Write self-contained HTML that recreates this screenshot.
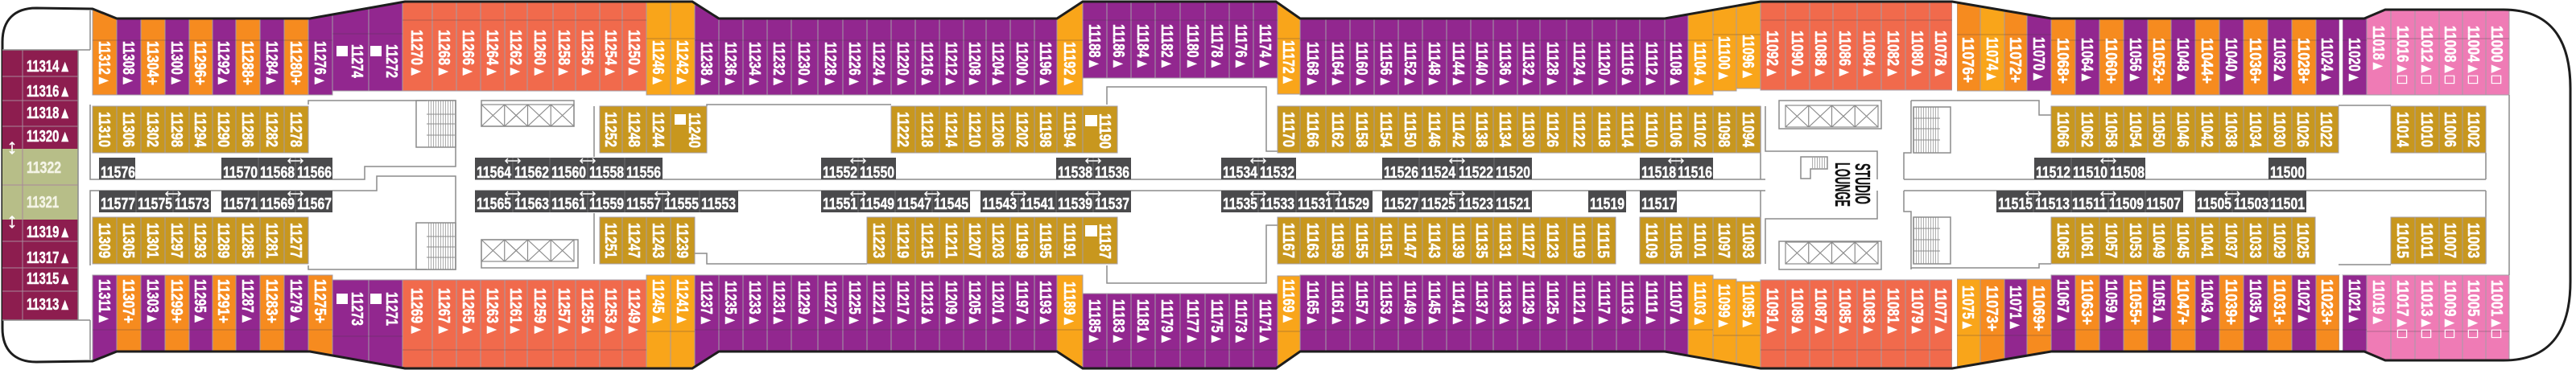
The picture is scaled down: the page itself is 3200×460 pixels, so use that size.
<!DOCTYPE html>
<html><head><meta charset="utf-8"><style>
html,body{margin:0;padding:0;background:#fff;width:3200px;height:460px;overflow:hidden}
svg{display:block}
.t{font-family:"Liberation Sans","DejaVu Sans",sans-serif;font-weight:700;font-size:20px;fill:#fff;stroke:#fff;stroke-width:0.5}
.O{fill:#F68B1F}.P{fill:#92278F}.C{fill:#F16A4C}.G{fill:#F9A51A}.M{fill:#C8971E}.K{fill:#4A4A4C}.PK{fill:#EF7BB5}.MR{fill:#8D1D4F}.GR{fill:#B7BE88}.W{fill:#fff}
.cb rect{stroke:#a39ca6;stroke-width:1}
.ln{fill:none;stroke:#8c8c8c;stroke-width:1.5}
</style></head><body>
<svg width="3200" height="460" viewBox="0 0 3200 460" xmlns="http://www.w3.org/2000/svg">
<defs>
<clipPath id="hull"><path d="M45 10 L115 11 L145 23 L385 23 L503 2 L860 2 L893 23 L1313 23 L1345 2 L1585 2 L1615 23 L2068 23 L2187 2 L2425 2 L2548 23 L2937 23 L2963 12 L3110 12 C3165 12 3193 45 3193 110 L3193 350 C3193 415 3165 448 3110 448 L2963 448 L2937 437 L2548 437 L2425 458 L2187 458 L2068 437 L1615 437 L1585 458 L1345 458 L1313 437 L893 437 L860 458 L503 458 L385 437 L145 437 L115 449 L45 450 C18 450 3 435 3 408 L3 52 C3 25 18 10 45 10 Z"/></clipPath>
<pattern id="st" width="3" height="4" patternUnits="userSpaceOnUse"><rect width="3" height="4" fill="#fff"/><line x1="1.5" y1="0" x2="1.5" y2="4" stroke="#9a9a9a" stroke-width="0.8"/></pattern>
<g id="el" fill="none" stroke="#8a8a8a" stroke-width="1.2"><rect width="115" height="27"/><path d="M28.75 0V27M57.5 0V27M86.25 0V27M0 0L28.75 27M28.75 0L0 27M28.75 0L57.5 27M57.5 0L28.75 27M57.5 0L86.25 27M86.25 0L57.5 27M86.25 0L115 27M115 0L86.25 27"/></g>
<g id="ar" fill="none" stroke="#fff" stroke-width="1.5"><path d="M-9 0H9M-6 -3L-9 0L-6 3M6 -3L9 0L6 3"/></g>
</defs>

<g clip-path="url(#hull)" class="cb">
<rect class="O" x="115" y="0" width="30" height="118"/><rect class="P" x="145" y="0" width="30" height="118"/><rect class="O" x="175" y="0" width="30" height="118"/><rect class="P" x="205" y="0" width="30" height="118"/><rect class="O" x="235" y="0" width="29" height="118"/><rect class="P" x="264" y="0" width="29" height="118"/><rect class="O" x="293" y="0" width="30" height="118"/><rect class="P" x="323" y="0" width="30" height="118"/><rect class="O" x="353" y="0" width="30" height="118"/><rect class="P" x="383" y="0" width="30" height="118"/>
<rect class="P" x="413" y="0" width="45" height="113"/><rect class="P" x="458" y="0" width="42" height="113"/>
<rect class="C" x="500" y="0" width="37" height="113"/><rect class="C" x="537" y="0" width="30" height="113"/><rect class="C" x="567" y="0" width="30" height="113"/><rect class="C" x="597" y="0" width="30" height="113"/><rect class="C" x="627" y="0" width="28" height="113"/><rect class="C" x="655" y="0" width="32" height="113"/><rect class="C" x="687" y="0" width="28" height="113"/><rect class="C" x="715" y="0" width="30" height="113"/><rect class="C" x="745" y="0" width="28" height="113"/><rect class="C" x="773" y="0" width="30" height="113"/>
<rect class="G" x="803" y="0" width="30" height="118"/><rect class="G" x="833" y="0" width="30" height="118"/>
<rect class="P" x="863" y="0" width="30" height="118"/><rect class="P" x="893" y="0" width="30" height="118"/><rect class="P" x="923" y="0" width="30" height="118"/><rect class="P" x="953" y="0" width="30" height="118"/><rect class="P" x="983" y="0" width="33" height="118"/><rect class="P" x="1016" y="0" width="31" height="118"/><rect class="P" x="1047" y="0" width="30" height="118"/><rect class="P" x="1077" y="0" width="30" height="118"/><rect class="P" x="1107" y="0" width="30" height="118"/><rect class="P" x="1137" y="0" width="30" height="118"/><rect class="P" x="1167" y="0" width="30" height="118"/><rect class="P" x="1197" y="0" width="28" height="118"/><rect class="P" x="1225" y="0" width="30" height="118"/><rect class="P" x="1255" y="0" width="30" height="118"/><rect class="P" x="1285" y="0" width="28" height="118"/>
<rect class="G" x="1313" y="0" width="32" height="118"/>
<rect class="P" x="1345" y="0" width="30" height="97"/><rect class="P" x="1375" y="0" width="30" height="97"/><rect class="P" x="1405" y="0" width="30" height="97"/><rect class="P" x="1435" y="0" width="31" height="97"/><rect class="P" x="1466" y="0" width="31" height="97"/><rect class="P" x="1497" y="0" width="30" height="97"/><rect class="P" x="1527" y="0" width="30" height="97"/><rect class="P" x="1557" y="0" width="30" height="97"/>
<rect class="G" x="1587" y="0" width="28" height="117"/>
<rect class="P" x="1615" y="0" width="32" height="118"/><rect class="P" x="1647" y="0" width="30" height="118"/><rect class="P" x="1677" y="0" width="30" height="118"/><rect class="P" x="1707" y="0" width="30" height="118"/><rect class="P" x="1737" y="0" width="30" height="118"/><rect class="P" x="1767" y="0" width="30" height="118"/><rect class="P" x="1797" y="0" width="30" height="118"/><rect class="P" x="1827" y="0" width="28" height="118"/><rect class="P" x="1855" y="0" width="30" height="118"/><rect class="P" x="1885" y="0" width="28" height="118"/><rect class="P" x="1913" y="0" width="33" height="118"/><rect class="P" x="1946" y="0" width="32" height="118"/><rect class="P" x="1978" y="0" width="30" height="118"/><rect class="P" x="2008" y="0" width="29" height="118"/><rect class="P" x="2037" y="0" width="31" height="118"/><rect class="P" x="2068" y="0" width="29" height="118"/>
<rect class="G" x="2097" y="0" width="31" height="118"/><rect class="G" x="2128" y="0" width="29" height="113"/><rect class="G" x="2157" y="0" width="30" height="110"/>
<rect class="C" x="2187" y="0" width="31" height="112"/><rect class="C" x="2218" y="0" width="30" height="112"/><rect class="C" x="2248" y="0" width="29" height="112"/><rect class="C" x="2277" y="0" width="30" height="112"/><rect class="C" x="2307" y="0" width="30" height="112"/><rect class="C" x="2337" y="0" width="30" height="112"/><rect class="C" x="2367" y="0" width="30" height="112"/><rect class="C" x="2397" y="0" width="28" height="112"/>
<rect class="O" x="2431" y="0" width="29" height="113"/><rect class="G" x="2460" y="0" width="30" height="113"/><rect class="O" x="2490" y="0" width="28" height="113"/><rect class="P" x="2518" y="0" width="30" height="113"/>
<rect class="O" x="2548" y="0" width="30" height="118"/><rect class="P" x="2578" y="0" width="30" height="118"/><rect class="O" x="2608" y="0" width="30" height="118"/><rect class="P" x="2638" y="0" width="30" height="118"/><rect class="O" x="2668" y="0" width="29" height="118"/><rect class="P" x="2697" y="0" width="30" height="118"/><rect class="O" x="2727" y="0" width="30" height="118"/><rect class="P" x="2757" y="0" width="30" height="118"/><rect class="O" x="2787" y="0" width="30" height="118"/><rect class="P" x="2817" y="0" width="30" height="118"/><rect class="O" x="2847" y="0" width="30" height="118"/><rect class="P" x="2877" y="0" width="29" height="118"/><rect class="P" x="2910" y="0" width="30" height="118"/>
<rect class="PK" x="2940" y="0" width="30" height="118"/><rect class="PK" x="2970" y="0" width="30" height="118"/><rect class="PK" x="3000" y="0" width="30" height="118"/><rect class="PK" x="3030" y="0" width="29" height="118"/><rect class="PK" x="3059" y="0" width="29" height="118"/><rect class="PK" x="3088" y="0" width="29" height="118"/>
<rect class="P" x="115" y="342" width="30" height="118"/><rect class="O" x="145" y="342" width="30" height="118"/><rect class="P" x="175" y="342" width="30" height="118"/><rect class="O" x="205" y="342" width="30" height="118"/><rect class="P" x="235" y="342" width="29" height="118"/><rect class="O" x="264" y="342" width="29" height="118"/><rect class="P" x="293" y="342" width="30" height="118"/><rect class="O" x="323" y="342" width="30" height="118"/><rect class="P" x="353" y="342" width="30" height="118"/><rect class="O" x="383" y="342" width="30" height="118"/>
<rect class="P" x="413" y="348" width="45" height="112"/><rect class="P" x="458" y="348" width="42" height="112"/>
<rect class="C" x="500" y="348" width="37" height="112"/><rect class="C" x="537" y="348" width="30" height="112"/><rect class="C" x="567" y="348" width="30" height="112"/><rect class="C" x="597" y="348" width="30" height="112"/><rect class="C" x="627" y="348" width="28" height="112"/><rect class="C" x="655" y="348" width="32" height="112"/><rect class="C" x="687" y="348" width="28" height="112"/><rect class="C" x="715" y="348" width="30" height="112"/><rect class="C" x="745" y="348" width="28" height="112"/><rect class="C" x="773" y="348" width="30" height="112"/>
<rect class="G" x="803" y="342" width="30" height="118"/><rect class="G" x="833" y="342" width="30" height="118"/>
<rect class="P" x="863" y="342" width="30" height="118"/><rect class="P" x="893" y="342" width="30" height="118"/><rect class="P" x="923" y="342" width="30" height="118"/><rect class="P" x="953" y="342" width="30" height="118"/><rect class="P" x="983" y="342" width="33" height="118"/><rect class="P" x="1016" y="342" width="31" height="118"/><rect class="P" x="1047" y="342" width="30" height="118"/><rect class="P" x="1077" y="342" width="30" height="118"/><rect class="P" x="1107" y="342" width="30" height="118"/><rect class="P" x="1137" y="342" width="30" height="118"/><rect class="P" x="1167" y="342" width="30" height="118"/><rect class="P" x="1197" y="342" width="28" height="118"/><rect class="P" x="1225" y="342" width="30" height="118"/><rect class="P" x="1255" y="342" width="30" height="118"/><rect class="P" x="1285" y="342" width="28" height="118"/>
<rect class="G" x="1313" y="342" width="32" height="118"/>
<rect class="P" x="1345" y="365" width="30" height="95"/><rect class="P" x="1375" y="365" width="30" height="95"/><rect class="P" x="1405" y="365" width="30" height="95"/><rect class="P" x="1435" y="365" width="31" height="95"/><rect class="P" x="1466" y="365" width="31" height="95"/><rect class="P" x="1497" y="365" width="30" height="95"/><rect class="P" x="1527" y="365" width="30" height="95"/><rect class="P" x="1557" y="365" width="30" height="95"/>
<rect class="G" x="1587" y="343" width="28" height="117"/>
<rect class="P" x="1615" y="342" width="32" height="118"/><rect class="P" x="1647" y="342" width="30" height="118"/><rect class="P" x="1677" y="342" width="30" height="118"/><rect class="P" x="1707" y="342" width="30" height="118"/><rect class="P" x="1737" y="342" width="30" height="118"/><rect class="P" x="1767" y="342" width="30" height="118"/><rect class="P" x="1797" y="342" width="30" height="118"/><rect class="P" x="1827" y="342" width="28" height="118"/><rect class="P" x="1855" y="342" width="30" height="118"/><rect class="P" x="1885" y="342" width="28" height="118"/><rect class="P" x="1913" y="342" width="33" height="118"/><rect class="P" x="1946" y="342" width="32" height="118"/><rect class="P" x="1978" y="342" width="30" height="118"/><rect class="P" x="2008" y="342" width="29" height="118"/><rect class="P" x="2037" y="342" width="31" height="118"/><rect class="P" x="2068" y="342" width="29" height="118"/>
<rect class="G" x="2097" y="342" width="31" height="118"/><rect class="G" x="2128" y="347" width="29" height="113"/><rect class="G" x="2157" y="350" width="30" height="110"/>
<rect class="C" x="2187" y="348" width="31" height="112"/><rect class="C" x="2218" y="348" width="30" height="112"/><rect class="C" x="2248" y="348" width="29" height="112"/><rect class="C" x="2277" y="348" width="30" height="112"/><rect class="C" x="2307" y="348" width="30" height="112"/><rect class="C" x="2337" y="348" width="30" height="112"/><rect class="C" x="2367" y="348" width="30" height="112"/><rect class="C" x="2397" y="348" width="28" height="112"/>
<rect class="G" x="2431" y="347" width="29" height="113"/><rect class="O" x="2460" y="347" width="30" height="113"/><rect class="P" x="2490" y="347" width="28" height="113"/><rect class="O" x="2518" y="347" width="30" height="113"/>
<rect class="P" x="2548" y="342" width="30" height="118"/><rect class="O" x="2578" y="342" width="30" height="118"/><rect class="P" x="2608" y="342" width="30" height="118"/><rect class="O" x="2638" y="342" width="30" height="118"/><rect class="P" x="2668" y="342" width="29" height="118"/><rect class="O" x="2697" y="342" width="30" height="118"/><rect class="P" x="2727" y="342" width="30" height="118"/><rect class="O" x="2757" y="342" width="30" height="118"/><rect class="P" x="2787" y="342" width="30" height="118"/><rect class="O" x="2817" y="342" width="30" height="118"/><rect class="P" x="2847" y="342" width="30" height="118"/><rect class="O" x="2877" y="342" width="29" height="118"/><rect class="P" x="2910" y="342" width="30" height="118"/>
<rect class="PK" x="2940" y="342" width="30" height="118"/><rect class="PK" x="2970" y="342" width="30" height="118"/><rect class="PK" x="3000" y="342" width="30" height="118"/><rect class="PK" x="3030" y="342" width="29" height="118"/><rect class="PK" x="3059" y="342" width="29" height="118"/><rect class="PK" x="3088" y="342" width="29" height="118"/>
</g>
<g clip-path="url(#hull)">
<rect class="W" x="2425" y="0" width="6" height="118"/><rect class="W" x="2425" y="342" width="6" height="118"/>
<rect class="W" x="2906" y="0" width="4" height="118"/><rect class="W" x="2906" y="342" width="4" height="118"/>
<path fill="none" stroke="rgba(70,60,70,0.35)" stroke-width="1" d="M115 50H413M413 42H500M500 25H803M803 48H863M863 50H1345M1345 25H1587M1587 48H1615M1615 50H2128M2128 43H2187M2187 25H2425M2431 43H2548M2548 50H2906M2910 50H2940M2940 48H3117M115 410H413M413 418H500M500 435H803M803 412H863M863 410H1345M1345 435H1587M1587 412H1615M1615 410H2128M2128 417H2187M2187 435H2425M2431 417H2548M2548 410H2906M2910 410H2940M2940 412H3117"/>
</g>

<path fill="none" stroke="#1d1d1d" stroke-width="3" d="M45 10 L115 11 L145 23 L385 23 L503 2 L860 2 L893 23 L1313 23 L1345 2 L1585 2 L1615 23 L2068 23 L2187 2 L2425 2 L2548 23 L2937 23 L2963 12 L3110 12 C3165 12 3193 45 3193 110 L3193 350 C3193 415 3165 448 3110 448 L2963 448 L2937 437 L2548 437 L2425 458 L2187 458 L2068 437 L1615 437 L1585 458 L1345 458 L1313 437 L893 437 L860 458 L503 458 L385 437 L145 437 L115 449 L45 450 C18 450 3 435 3 408 L3 52 C3 25 18 10 45 10 Z"/>

<rect class="W" x="418" y="57" width="14" height="13"/><rect class="W" x="460" y="57" width="14" height="13"/>
<rect class="W" x="418" y="365" width="14" height="13"/><rect class="W" x="460" y="365" width="14" height="13"/>

<rect class="MR" x="3" y="62" width="94" height="123"/>
<rect class="GR" x="3" y="185" width="94" height="88"/>
<rect class="MR" x="3" y="273" width="94" height="125"/>
<path fill="none" stroke="#a8889a" stroke-width="1" d="M28 62V398M3 95H97M3 125H97M3 157H97M3 230H97M3 300H97M3 333H97M3 362H97"/>
<path class="ln" d="M3 62H112M3 398H112M112 13V62M112 398V447M97 62V398"/>
<path fill="none" stroke="#fff" stroke-width="1.6" d="M15 177V191M12 180L15 177L18 180M12 188L15 191L18 188M15 269V283M12 272L15 269L18 272M12 280L15 283L18 280"/>
<text class="t" x="33" y="89" textLength="55" lengthAdjust="spacingAndGlyphs">11314▲</text>
<text class="t" x="33" y="120" textLength="55" lengthAdjust="spacingAndGlyphs">11316▲</text>
<text class="t" x="33" y="147" textLength="55" lengthAdjust="spacingAndGlyphs">11318▲</text>
<text class="t" x="33" y="176" textLength="55" lengthAdjust="spacingAndGlyphs">11320▲</text>
<text class="t" x="33" y="215" textLength="43" lengthAdjust="spacingAndGlyphs" style="fill:#f4f4e6;stroke:#f4f4e6">11322</text>
<text class="t" x="33" y="258" textLength="40" lengthAdjust="spacingAndGlyphs" style="fill:#f4f4e6;stroke:#f4f4e6">11321</text>
<text class="t" x="33" y="295" textLength="55" lengthAdjust="spacingAndGlyphs">11319▲</text>
<text class="t" x="33" y="327" textLength="55" lengthAdjust="spacingAndGlyphs">11317▲</text>
<text class="t" x="33" y="353" textLength="55" lengthAdjust="spacingAndGlyphs">11315▲</text>
<text class="t" x="33" y="385" textLength="55" lengthAdjust="spacingAndGlyphs">11313▲</text>

<path class="ln" d="M112 130V223H453V207H566V125H383V130M112 330V237H468V219H566V335H383V330"/>
<path class="ln" d="M590 223H2193M590 237H2193M878 132V130H1107M863 315H878V328H1077M738 132V195M738 265V328M1375 130V108H1573V188H1587M1375 330V352H1573V280H1587"/>
<path class="ln" d="M2187 132V223M2187 237V328M2193 132V188H2332V223M2193 328V272H2332V237"/>
<path class="ln" d="M2365 223H3088M2365 237H3088M2374 125V190H2365V223M2374 335V263H2365V237M2374 125H2533V143H2548M2374 333H2533V328H2548M3088 190V223M3088 237V328M3117 118V342M2905 131H2970M2905 329H2970"/>

<rect x="530" y="125" width="35" height="58" fill="url(#st)"/><rect x="530" y="277" width="35" height="58" fill="url(#st)"/>
<rect x="2377" y="133" width="33" height="57" fill="url(#st)"/><rect x="2377" y="270" width="33" height="58" fill="url(#st)"/>
<path class="ln" d="M517 125H566V183H517ZM517 277H566V335H517ZM2377 133H2423V190H2377ZM2377 270H2423V328H2377Z"/>
<path fill="none" stroke="#8c8c8c" stroke-width="1" d="M530 142H565M530 154H565M530 168H565M530 294H565M530 307H565M530 320H565M2377 147H2410M2377 160H2410M2377 174H2410M2377 284H2410M2377 298H2410M2377 312H2410"/>

<rect class="ln" x="598" y="125" width="115" height="32"/><use href="#el" x="598" y="130"/>
<rect class="ln" x="598" y="298" width="120" height="35"/><use href="#el" x="598" y="298"/>
<rect class="ln" x="2210" y="125" width="127" height="35"/><use href="#el" x="2218" y="131"/>
<rect class="ln" x="2210" y="300" width="127" height="35"/><use href="#el" x="2218" y="301"/>

<path class="ln" d="M2237 195H2270V210H2249V222H2237Z"/>
<rect x="2250" y="196" width="19" height="13" fill="url(#st)"/>
<text class="t" style="fill:#111;stroke:#111;stroke-width:0.3;font-size:26px" transform="translate(2305 203)rotate(90)" textLength="51" lengthAdjust="spacingAndGlyphs">STUDIO</text>
<text class="t" style="fill:#111;stroke:#111;stroke-width:0.3;font-size:26px" transform="translate(2280 202)rotate(90)" textLength="55" lengthAdjust="spacingAndGlyphs">LOUNGE</text>

<g class="cb">
<rect class="M" x="115" y="132" width="30" height="58"/><rect class="M" x="145" y="132" width="30" height="58"/><rect class="M" x="175" y="132" width="30" height="58"/><rect class="M" x="205" y="132" width="30" height="58"/><rect class="M" x="235" y="132" width="29" height="58"/><rect class="M" x="264" y="132" width="29" height="58"/><rect class="M" x="293" y="132" width="30" height="58"/><rect class="M" x="323" y="132" width="30" height="58"/><rect class="M" x="353" y="132" width="30" height="58"/>
<rect class="M" x="745" y="132" width="28" height="58"/><rect class="M" x="773" y="132" width="30" height="58"/><rect class="M" x="803" y="132" width="30" height="58"/><rect class="M" x="833" y="132" width="45" height="58"/>
<rect class="M" x="1107" y="132" width="30" height="58"/><rect class="M" x="1137" y="132" width="30" height="58"/><rect class="M" x="1167" y="132" width="30" height="58"/><rect class="M" x="1197" y="132" width="28" height="58"/><rect class="M" x="1225" y="132" width="30" height="58"/><rect class="M" x="1255" y="132" width="30" height="58"/><rect class="M" x="1285" y="132" width="28" height="58"/><rect class="M" x="1313" y="132" width="32" height="58"/><rect class="M" x="1345" y="132" width="43" height="58"/>
<rect class="M" x="1587" y="132" width="28" height="58"/><rect class="M" x="1615" y="132" width="32" height="58"/><rect class="M" x="1647" y="132" width="30" height="58"/><rect class="M" x="1677" y="132" width="30" height="58"/><rect class="M" x="1707" y="132" width="30" height="58"/><rect class="M" x="1737" y="132" width="30" height="58"/><rect class="M" x="1767" y="132" width="30" height="58"/><rect class="M" x="1797" y="132" width="30" height="58"/><rect class="M" x="1827" y="132" width="28" height="58"/><rect class="M" x="1855" y="132" width="30" height="58"/><rect class="M" x="1885" y="132" width="28" height="58"/><rect class="M" x="1913" y="132" width="33" height="58"/><rect class="M" x="1946" y="132" width="32" height="58"/><rect class="M" x="1978" y="132" width="30" height="58"/><rect class="M" x="2008" y="132" width="29" height="58"/><rect class="M" x="2037" y="132" width="31" height="58"/><rect class="M" x="2068" y="132" width="29" height="58"/><rect class="M" x="2097" y="132" width="31" height="58"/><rect class="M" x="2128" y="132" width="29" height="58"/><rect class="M" x="2157" y="132" width="30" height="58"/>
<rect class="M" x="2548" y="132" width="30" height="58"/><rect class="M" x="2578" y="132" width="30" height="58"/><rect class="M" x="2608" y="132" width="30" height="58"/><rect class="M" x="2638" y="132" width="30" height="58"/><rect class="M" x="2668" y="132" width="29" height="58"/><rect class="M" x="2697" y="132" width="30" height="58"/><rect class="M" x="2727" y="132" width="30" height="58"/><rect class="M" x="2757" y="132" width="30" height="58"/><rect class="M" x="2787" y="132" width="30" height="58"/><rect class="M" x="2817" y="132" width="30" height="58"/><rect class="M" x="2847" y="132" width="29" height="58"/><rect class="M" x="2876" y="132" width="29" height="58"/>
<rect class="M" x="2970" y="132" width="30" height="58"/><rect class="M" x="3000" y="132" width="30" height="58"/><rect class="M" x="3030" y="132" width="29" height="58"/><rect class="M" x="3059" y="132" width="29" height="58"/>

<rect class="M" x="115" y="270" width="30" height="58"/><rect class="M" x="145" y="270" width="30" height="58"/><rect class="M" x="175" y="270" width="30" height="58"/><rect class="M" x="205" y="270" width="30" height="58"/><rect class="M" x="235" y="270" width="29" height="58"/><rect class="M" x="264" y="270" width="29" height="58"/><rect class="M" x="293" y="270" width="30" height="58"/><rect class="M" x="323" y="270" width="30" height="58"/><rect class="M" x="353" y="270" width="30" height="58"/>
<rect class="M" x="745" y="270" width="28" height="58"/><rect class="M" x="773" y="270" width="30" height="58"/><rect class="M" x="803" y="270" width="30" height="58"/><rect class="M" x="833" y="270" width="30" height="58"/>
<rect class="M" x="1077" y="270" width="30" height="58"/><rect class="M" x="1107" y="270" width="30" height="58"/><rect class="M" x="1137" y="270" width="30" height="58"/><rect class="M" x="1167" y="270" width="30" height="58"/><rect class="M" x="1197" y="270" width="28" height="58"/><rect class="M" x="1225" y="270" width="30" height="58"/><rect class="M" x="1255" y="270" width="30" height="58"/><rect class="M" x="1285" y="270" width="28" height="58"/><rect class="M" x="1313" y="270" width="32" height="58"/><rect class="M" x="1345" y="270" width="43" height="58"/>
<rect class="M" x="1587" y="270" width="28" height="58"/><rect class="M" x="1615" y="270" width="32" height="58"/><rect class="M" x="1647" y="270" width="30" height="58"/><rect class="M" x="1677" y="270" width="30" height="58"/><rect class="M" x="1707" y="270" width="30" height="58"/><rect class="M" x="1737" y="270" width="30" height="58"/><rect class="M" x="1767" y="270" width="30" height="58"/><rect class="M" x="1797" y="270" width="30" height="58"/><rect class="M" x="1827" y="270" width="28" height="58"/><rect class="M" x="1855" y="270" width="30" height="58"/><rect class="M" x="1885" y="270" width="28" height="58"/><rect class="M" x="1913" y="270" width="33" height="58"/><rect class="M" x="1946" y="270" width="32" height="58"/><rect class="M" x="1978" y="270" width="29" height="58"/>
<rect class="M" x="2037" y="270" width="31" height="58"/><rect class="M" x="2068" y="270" width="29" height="58"/><rect class="M" x="2097" y="270" width="31" height="58"/><rect class="M" x="2128" y="270" width="29" height="58"/><rect class="M" x="2157" y="270" width="30" height="58"/>
<rect class="M" x="2548" y="270" width="30" height="58"/><rect class="M" x="2578" y="270" width="30" height="58"/><rect class="M" x="2608" y="270" width="30" height="58"/><rect class="M" x="2638" y="270" width="30" height="58"/><rect class="M" x="2668" y="270" width="29" height="58"/><rect class="M" x="2697" y="270" width="30" height="58"/><rect class="M" x="2727" y="270" width="30" height="58"/><rect class="M" x="2757" y="270" width="30" height="58"/><rect class="M" x="2787" y="270" width="30" height="58"/><rect class="M" x="2817" y="270" width="30" height="58"/><rect class="M" x="2847" y="270" width="29" height="58"/>
<rect class="M" x="2970" y="270" width="30" height="58"/><rect class="M" x="3000" y="270" width="30" height="58"/><rect class="M" x="3030" y="270" width="29" height="58"/><rect class="M" x="3059" y="270" width="29" height="58"/>
</g>
<rect class="W" x="838" y="142" width="14" height="13"/><rect class="W" x="1348" y="143" width="15" height="14"/><rect class="W" x="1348" y="280" width="15" height="14"/>

<g class="K">
<rect x="123" y="196" width="45" height="27"/><rect x="275" y="196" width="138" height="27"/><rect x="590" y="196" width="233" height="27"/><rect x="1020" y="196" width="93" height="27"/><rect x="1312" y="196" width="93" height="27"/><rect x="1517" y="196" width="93" height="27"/><rect x="1717" y="196" width="186" height="27"/><rect x="2037" y="196" width="91" height="27"/><rect x="2527" y="196" width="138" height="27"/><rect x="2818" y="196" width="47" height="27"/>
<rect x="123" y="237" width="139" height="27"/><rect x="275" y="237" width="138" height="27"/><rect x="590" y="237" width="327" height="27"/><rect x="1020" y="237" width="185" height="27"/><rect x="1218" y="237" width="187" height="27"/><rect x="1517" y="237" width="188" height="27"/><rect x="1717" y="237" width="186" height="27"/><rect x="1973" y="237" width="47" height="27"/><rect x="2037" y="237" width="46" height="27"/><rect x="2480" y="237" width="232" height="27"/><rect x="2727" y="237" width="138" height="27"/>
</g>
<path fill="none" stroke="#6e6e70" stroke-width="1" d="M321 196V223M367 196V223M637 196V223M683 196V223M730 196V223M776 196V223M1066 196V223M1358 196V223M1563 196V223M1763 196V223M1810 196V223M1856 196V223M2082 196V223M2573 196V223M2619 196V223M169 237V264M215 237V264M321 237V264M367 237V264M637 237V264M683 237V264M730 237V264M776 237V264M823 237V264M869 237V264M1066 237V264M1112 237V264M1158 237V264M1265 237V264M1312 237V264M1358 237V264M1563 237V264M1610 237V264M1657 237V264M1763 237V264M1810 237V264M1856 237V264M2526 237V264M2573 237V264M2619 237V264M2665 237V264M2773 237V264M2819 237V264"/>
<use href="#ar" x="367" y="200"/><use href="#ar" x="637" y="200"/><use href="#ar" x="730" y="200"/><use href="#ar" x="1066" y="200"/><use href="#ar" x="1358" y="200"/><use href="#ar" x="1563" y="200"/><use href="#ar" x="1810" y="200"/><use href="#ar" x="2082" y="200"/><use href="#ar" x="2619" y="200"/>
<use href="#ar" x="215" y="241"/><use href="#ar" x="367" y="241"/><use href="#ar" x="637" y="241"/><use href="#ar" x="730" y="241"/><use href="#ar" x="823" y="241"/><use href="#ar" x="1066" y="241"/><use href="#ar" x="1158" y="241"/><use href="#ar" x="1265" y="241"/><use href="#ar" x="1358" y="241"/><use href="#ar" x="1563" y="241"/><use href="#ar" x="1657" y="241"/><use href="#ar" x="1810" y="241"/><use href="#ar" x="2526" y="241"/><use href="#ar" x="2619" y="241"/><use href="#ar" x="2773" y="241"/>

<g class="t">
<text x="125" y="221" textLength="43" lengthAdjust="spacingAndGlyphs">11576</text>
<text x="277" y="221" textLength="43" lengthAdjust="spacingAndGlyphs">11570</text><text x="323" y="221" textLength="43" lengthAdjust="spacingAndGlyphs">11568</text><text x="369" y="221" textLength="43" lengthAdjust="spacingAndGlyphs">11566</text>
<text x="592" y="221" textLength="43" lengthAdjust="spacingAndGlyphs">11564</text><text x="639" y="221" textLength="43" lengthAdjust="spacingAndGlyphs">11562</text><text x="685" y="221" textLength="43" lengthAdjust="spacingAndGlyphs">11560</text><text x="732" y="221" textLength="43" lengthAdjust="spacingAndGlyphs">11558</text><text x="778" y="221" textLength="43" lengthAdjust="spacingAndGlyphs">11556</text>
<text x="1022" y="221" textLength="43" lengthAdjust="spacingAndGlyphs">11552</text><text x="1068" y="221" textLength="43" lengthAdjust="spacingAndGlyphs">11550</text>
<text x="1314" y="221" textLength="43" lengthAdjust="spacingAndGlyphs">11538</text><text x="1360" y="221" textLength="43" lengthAdjust="spacingAndGlyphs">11536</text>
<text x="1519" y="221" textLength="43" lengthAdjust="spacingAndGlyphs">11534</text><text x="1565" y="221" textLength="43" lengthAdjust="spacingAndGlyphs">11532</text>
<text x="1719" y="221" textLength="43" lengthAdjust="spacingAndGlyphs">11526</text><text x="1765" y="221" textLength="43" lengthAdjust="spacingAndGlyphs">11524</text><text x="1812" y="221" textLength="43" lengthAdjust="spacingAndGlyphs">11522</text><text x="1858" y="221" textLength="43" lengthAdjust="spacingAndGlyphs">11520</text>
<text x="2039" y="221" textLength="43" lengthAdjust="spacingAndGlyphs">11518</text><text x="2084" y="221" textLength="43" lengthAdjust="spacingAndGlyphs">11516</text>
<text x="2529" y="221" textLength="43" lengthAdjust="spacingAndGlyphs">11512</text><text x="2575" y="221" textLength="43" lengthAdjust="spacingAndGlyphs">11510</text><text x="2621" y="221" textLength="43" lengthAdjust="spacingAndGlyphs">11508</text>
<text x="2820" y="221" textLength="43" lengthAdjust="spacingAndGlyphs">11500</text>
<text x="125" y="260" textLength="43" lengthAdjust="spacingAndGlyphs">11577</text><text x="171" y="260" textLength="43" lengthAdjust="spacingAndGlyphs">11575</text><text x="217" y="260" textLength="43" lengthAdjust="spacingAndGlyphs">11573</text>
<text x="277" y="260" textLength="43" lengthAdjust="spacingAndGlyphs">11571</text><text x="323" y="260" textLength="43" lengthAdjust="spacingAndGlyphs">11569</text><text x="369" y="260" textLength="43" lengthAdjust="spacingAndGlyphs">11567</text>
<text x="592" y="260" textLength="43" lengthAdjust="spacingAndGlyphs">11565</text><text x="639" y="260" textLength="43" lengthAdjust="spacingAndGlyphs">11563</text><text x="685" y="260" textLength="43" lengthAdjust="spacingAndGlyphs">11561</text><text x="732" y="260" textLength="43" lengthAdjust="spacingAndGlyphs">11559</text><text x="778" y="260" textLength="43" lengthAdjust="spacingAndGlyphs">11557</text><text x="825" y="260" textLength="43" lengthAdjust="spacingAndGlyphs">11555</text><text x="871" y="260" textLength="43" lengthAdjust="spacingAndGlyphs">11553</text>
<text x="1022" y="260" textLength="43" lengthAdjust="spacingAndGlyphs">11551</text><text x="1068" y="260" textLength="43" lengthAdjust="spacingAndGlyphs">11549</text><text x="1114" y="260" textLength="43" lengthAdjust="spacingAndGlyphs">11547</text><text x="1160" y="260" textLength="43" lengthAdjust="spacingAndGlyphs">11545</text>
<text x="1220" y="260" textLength="43" lengthAdjust="spacingAndGlyphs">11543</text><text x="1267" y="260" textLength="43" lengthAdjust="spacingAndGlyphs">11541</text><text x="1314" y="260" textLength="43" lengthAdjust="spacingAndGlyphs">11539</text><text x="1360" y="260" textLength="43" lengthAdjust="spacingAndGlyphs">11537</text>
<text x="1519" y="260" textLength="43" lengthAdjust="spacingAndGlyphs">11535</text><text x="1565" y="260" textLength="43" lengthAdjust="spacingAndGlyphs">11533</text><text x="1612" y="260" textLength="43" lengthAdjust="spacingAndGlyphs">11531</text><text x="1658" y="260" textLength="43" lengthAdjust="spacingAndGlyphs">11529</text>
<text x="1719" y="260" textLength="43" lengthAdjust="spacingAndGlyphs">11527</text><text x="1765" y="260" textLength="43" lengthAdjust="spacingAndGlyphs">11525</text><text x="1812" y="260" textLength="43" lengthAdjust="spacingAndGlyphs">11523</text><text x="1858" y="260" textLength="43" lengthAdjust="spacingAndGlyphs">11521</text>
<text x="1975" y="260" textLength="43" lengthAdjust="spacingAndGlyphs">11519</text>
<text x="2039" y="260" textLength="43" lengthAdjust="spacingAndGlyphs">11517</text>
<text x="2482" y="260" textLength="43" lengthAdjust="spacingAndGlyphs">11515</text><text x="2528" y="260" textLength="43" lengthAdjust="spacingAndGlyphs">11513</text><text x="2574" y="260" textLength="43" lengthAdjust="spacingAndGlyphs">11511</text><text x="2620" y="260" textLength="43" lengthAdjust="spacingAndGlyphs">11509</text><text x="2666" y="260" textLength="43" lengthAdjust="spacingAndGlyphs">11507</text>
<text x="2729" y="260" textLength="43" lengthAdjust="spacingAndGlyphs">11505</text><text x="2775" y="260" textLength="43" lengthAdjust="spacingAndGlyphs">11503</text><text x="2820" y="260" textLength="43" lengthAdjust="spacingAndGlyphs">11501</text>
</g>

<g class="t">
<text transform="translate(123 51)rotate(90)" textLength="57" lengthAdjust="spacingAndGlyphs">11312▲</text>
<text transform="translate(153 51)rotate(90)" textLength="57" lengthAdjust="spacingAndGlyphs">11308▲</text>
<text transform="translate(183 51)rotate(90)" textLength="55" lengthAdjust="spacingAndGlyphs">11304+</text>
<text transform="translate(213 51)rotate(90)" textLength="57" lengthAdjust="spacingAndGlyphs">11300▲</text>
<text transform="translate(242 51)rotate(90)" textLength="55" lengthAdjust="spacingAndGlyphs">11296+</text>
<text transform="translate(271 51)rotate(90)" textLength="57" lengthAdjust="spacingAndGlyphs">11292▲</text>
<text transform="translate(301 51)rotate(90)" textLength="55" lengthAdjust="spacingAndGlyphs">11288+</text>
<text transform="translate(331 51)rotate(90)" textLength="57" lengthAdjust="spacingAndGlyphs">11284▲</text>
<text transform="translate(361 51)rotate(90)" textLength="55" lengthAdjust="spacingAndGlyphs">11280+</text>
<text transform="translate(391 51)rotate(90)" textLength="57" lengthAdjust="spacingAndGlyphs">11276▲</text>
<text transform="translate(437 55)rotate(90)" textLength="42" lengthAdjust="spacingAndGlyphs">11274</text>
<text transform="translate(480 55)rotate(90)" textLength="42" lengthAdjust="spacingAndGlyphs">11272</text>
<text transform="translate(511 37)rotate(90)" textLength="60" lengthAdjust="spacingAndGlyphs">11270▲</text>
<text transform="translate(545 37)rotate(90)" textLength="60" lengthAdjust="spacingAndGlyphs">11268▲</text>
<text transform="translate(575 37)rotate(90)" textLength="60" lengthAdjust="spacingAndGlyphs">11266▲</text>
<text transform="translate(605 37)rotate(90)" textLength="60" lengthAdjust="spacingAndGlyphs">11264▲</text>
<text transform="translate(634 37)rotate(90)" textLength="60" lengthAdjust="spacingAndGlyphs">11262▲</text>
<text transform="translate(664 37)rotate(90)" textLength="60" lengthAdjust="spacingAndGlyphs">11260▲</text>
<text transform="translate(694 37)rotate(90)" textLength="60" lengthAdjust="spacingAndGlyphs">11258▲</text>
<text transform="translate(723 37)rotate(90)" textLength="60" lengthAdjust="spacingAndGlyphs">11256▲</text>
<text transform="translate(752 37)rotate(90)" textLength="60" lengthAdjust="spacingAndGlyphs">11254▲</text>
<text transform="translate(781 37)rotate(90)" textLength="60" lengthAdjust="spacingAndGlyphs">11250▲</text>
<text transform="translate(811 50)rotate(90)" textLength="58" lengthAdjust="spacingAndGlyphs">11246▲</text>
<text transform="translate(841 50)rotate(90)" textLength="58" lengthAdjust="spacingAndGlyphs">11242▲</text>
<text transform="translate(871 52)rotate(90)" textLength="57" lengthAdjust="spacingAndGlyphs">11238▲</text>
<text transform="translate(901 52)rotate(90)" textLength="57" lengthAdjust="spacingAndGlyphs">11236▲</text>
<text transform="translate(931 52)rotate(90)" textLength="57" lengthAdjust="spacingAndGlyphs">11234▲</text>
<text transform="translate(961 52)rotate(90)" textLength="57" lengthAdjust="spacingAndGlyphs">11232▲</text>
<text transform="translate(992 52)rotate(90)" textLength="57" lengthAdjust="spacingAndGlyphs">11230▲</text>
<text transform="translate(1025 52)rotate(90)" textLength="57" lengthAdjust="spacingAndGlyphs">11228▲</text>
<text transform="translate(1055 52)rotate(90)" textLength="57" lengthAdjust="spacingAndGlyphs">11226▲</text>
<text transform="translate(1085 52)rotate(90)" textLength="57" lengthAdjust="spacingAndGlyphs">11224▲</text>
<text transform="translate(1115 52)rotate(90)" textLength="57" lengthAdjust="spacingAndGlyphs">11220▲</text>
<text transform="translate(1145 52)rotate(90)" textLength="57" lengthAdjust="spacingAndGlyphs">11216▲</text>
<text transform="translate(1175 52)rotate(90)" textLength="57" lengthAdjust="spacingAndGlyphs">11212▲</text>
<text transform="translate(1204 52)rotate(90)" textLength="57" lengthAdjust="spacingAndGlyphs">11208▲</text>
<text transform="translate(1233 52)rotate(90)" textLength="57" lengthAdjust="spacingAndGlyphs">11204▲</text>
<text transform="translate(1263 52)rotate(90)" textLength="57" lengthAdjust="spacingAndGlyphs">11200▲</text>
<text transform="translate(1292 52)rotate(90)" textLength="57" lengthAdjust="spacingAndGlyphs">11196▲</text>
<text transform="translate(1322 52)rotate(90)" textLength="57" lengthAdjust="spacingAndGlyphs">11192▲</text>
<text transform="translate(1353 30)rotate(90)" textLength="57" lengthAdjust="spacingAndGlyphs">11188▲</text>
<text transform="translate(1383 30)rotate(90)" textLength="57" lengthAdjust="spacingAndGlyphs">11186▲</text>
<text transform="translate(1413 30)rotate(90)" textLength="57" lengthAdjust="spacingAndGlyphs">11184▲</text>
<text transform="translate(1443 30)rotate(90)" textLength="57" lengthAdjust="spacingAndGlyphs">11182▲</text>
<text transform="translate(1475 30)rotate(90)" textLength="57" lengthAdjust="spacingAndGlyphs">11180▲</text>
<text transform="translate(1505 30)rotate(90)" textLength="57" lengthAdjust="spacingAndGlyphs">11178▲</text>
<text transform="translate(1535 30)rotate(90)" textLength="57" lengthAdjust="spacingAndGlyphs">11176▲</text>
<text transform="translate(1565 30)rotate(90)" textLength="57" lengthAdjust="spacingAndGlyphs">11174▲</text>
<text transform="translate(1594 50)rotate(90)" textLength="57" lengthAdjust="spacingAndGlyphs">11172▲</text>
<text transform="translate(1624 52)rotate(90)" textLength="57" lengthAdjust="spacingAndGlyphs">11168▲</text>
<text transform="translate(1655 52)rotate(90)" textLength="57" lengthAdjust="spacingAndGlyphs">11164▲</text>
<text transform="translate(1685 52)rotate(90)" textLength="57" lengthAdjust="spacingAndGlyphs">11160▲</text>
<text transform="translate(1715 52)rotate(90)" textLength="57" lengthAdjust="spacingAndGlyphs">11156▲</text>
<text transform="translate(1745 52)rotate(90)" textLength="57" lengthAdjust="spacingAndGlyphs">11152▲</text>
<text transform="translate(1775 52)rotate(90)" textLength="57" lengthAdjust="spacingAndGlyphs">11148▲</text>
<text transform="translate(1805 52)rotate(90)" textLength="57" lengthAdjust="spacingAndGlyphs">11144▲</text>
<text transform="translate(1834 52)rotate(90)" textLength="57" lengthAdjust="spacingAndGlyphs">11140▲</text>
<text transform="translate(1863 52)rotate(90)" textLength="57" lengthAdjust="spacingAndGlyphs">11136▲</text>
<text transform="translate(1892 52)rotate(90)" textLength="57" lengthAdjust="spacingAndGlyphs">11132▲</text>
<text transform="translate(1922 52)rotate(90)" textLength="57" lengthAdjust="spacingAndGlyphs">11128▲</text>
<text transform="translate(1955 52)rotate(90)" textLength="57" lengthAdjust="spacingAndGlyphs">11124▲</text>
<text transform="translate(1986 52)rotate(90)" textLength="57" lengthAdjust="spacingAndGlyphs">11120▲</text>
<text transform="translate(2015 52)rotate(90)" textLength="57" lengthAdjust="spacingAndGlyphs">11116▲</text>
<text transform="translate(2045 52)rotate(90)" textLength="57" lengthAdjust="spacingAndGlyphs">11112▲</text>
<text transform="translate(2075 52)rotate(90)" textLength="57" lengthAdjust="spacingAndGlyphs">11108▲</text>
<text transform="translate(2105 52)rotate(90)" textLength="57" lengthAdjust="spacingAndGlyphs">11104▲</text>
<text transform="translate(2135 45)rotate(90)" textLength="57" lengthAdjust="spacingAndGlyphs">11100▲</text>
<text transform="translate(2165 43)rotate(90)" textLength="57" lengthAdjust="spacingAndGlyphs">11096▲</text>
<text transform="translate(2195 38)rotate(90)" textLength="60" lengthAdjust="spacingAndGlyphs">11092▲</text>
<text transform="translate(2226 38)rotate(90)" textLength="60" lengthAdjust="spacingAndGlyphs">11090▲</text>
<text transform="translate(2255 38)rotate(90)" textLength="60" lengthAdjust="spacingAndGlyphs">11088▲</text>
<text transform="translate(2285 38)rotate(90)" textLength="60" lengthAdjust="spacingAndGlyphs">11086▲</text>
<text transform="translate(2315 38)rotate(90)" textLength="60" lengthAdjust="spacingAndGlyphs">11084▲</text>
<text transform="translate(2345 38)rotate(90)" textLength="60" lengthAdjust="spacingAndGlyphs">11082▲</text>
<text transform="translate(2375 38)rotate(90)" textLength="60" lengthAdjust="spacingAndGlyphs">11080▲</text>
<text transform="translate(2404 38)rotate(90)" textLength="60" lengthAdjust="spacingAndGlyphs">11078▲</text>
<text transform="translate(2438 46)rotate(90)" textLength="57" lengthAdjust="spacingAndGlyphs">11076+</text>
<text transform="translate(2468 46)rotate(90)" textLength="57" lengthAdjust="spacingAndGlyphs">11074▲</text>
<text transform="translate(2497 46)rotate(90)" textLength="57" lengthAdjust="spacingAndGlyphs">11072+</text>
<text transform="translate(2526 46)rotate(90)" textLength="57" lengthAdjust="spacingAndGlyphs">11070▲</text>
<text transform="translate(2556 47)rotate(90)" textLength="57" lengthAdjust="spacingAndGlyphs">11068+</text>
<text transform="translate(2586 47)rotate(90)" textLength="57" lengthAdjust="spacingAndGlyphs">11064▲</text>
<text transform="translate(2616 47)rotate(90)" textLength="57" lengthAdjust="spacingAndGlyphs">11060+</text>
<text transform="translate(2646 47)rotate(90)" textLength="57" lengthAdjust="spacingAndGlyphs">11056▲</text>
<text transform="translate(2675 47)rotate(90)" textLength="57" lengthAdjust="spacingAndGlyphs">11052+</text>
<text transform="translate(2705 47)rotate(90)" textLength="57" lengthAdjust="spacingAndGlyphs">11048▲</text>
<text transform="translate(2735 47)rotate(90)" textLength="57" lengthAdjust="spacingAndGlyphs">11044+</text>
<text transform="translate(2765 47)rotate(90)" textLength="57" lengthAdjust="spacingAndGlyphs">11040▲</text>
<text transform="translate(2795 47)rotate(90)" textLength="57" lengthAdjust="spacingAndGlyphs">11036+</text>
<text transform="translate(2825 47)rotate(90)" textLength="57" lengthAdjust="spacingAndGlyphs">11032▲</text>
<text transform="translate(2855 47)rotate(90)" textLength="57" lengthAdjust="spacingAndGlyphs">11028+</text>
<text transform="translate(2884 47)rotate(90)" textLength="57" lengthAdjust="spacingAndGlyphs">11024▲</text>
<text transform="translate(2918 47)rotate(90)" textLength="57" lengthAdjust="spacingAndGlyphs">11020▲</text>
<text transform="translate(2948 32)rotate(90)" textLength="58" lengthAdjust="spacingAndGlyphs">11018▲</text>
<text transform="translate(2978 32)rotate(90)" textLength="72" lengthAdjust="spacingAndGlyphs">11016▲□</text>
<text transform="translate(3008 32)rotate(90)" textLength="72" lengthAdjust="spacingAndGlyphs">11012▲□</text>
<text transform="translate(3037 32)rotate(90)" textLength="72" lengthAdjust="spacingAndGlyphs">11008▲□</text>
<text transform="translate(3066 32)rotate(90)" textLength="72" lengthAdjust="spacingAndGlyphs">11004▲□</text>
<text transform="translate(3095 32)rotate(90)" textLength="72" lengthAdjust="spacingAndGlyphs">11000▲□</text>

<text transform="translate(123 347)rotate(90)" textLength="57" lengthAdjust="spacingAndGlyphs">11311▲</text>
<text transform="translate(153 347)rotate(90)" textLength="55" lengthAdjust="spacingAndGlyphs">11307+</text>
<text transform="translate(183 347)rotate(90)" textLength="57" lengthAdjust="spacingAndGlyphs">11303▲</text>
<text transform="translate(213 347)rotate(90)" textLength="55" lengthAdjust="spacingAndGlyphs">11299+</text>
<text transform="translate(242 347)rotate(90)" textLength="57" lengthAdjust="spacingAndGlyphs">11295▲</text>
<text transform="translate(271 347)rotate(90)" textLength="55" lengthAdjust="spacingAndGlyphs">11291+</text>
<text transform="translate(301 347)rotate(90)" textLength="57" lengthAdjust="spacingAndGlyphs">11287▲</text>
<text transform="translate(331 347)rotate(90)" textLength="55" lengthAdjust="spacingAndGlyphs">11283+</text>
<text transform="translate(361 347)rotate(90)" textLength="57" lengthAdjust="spacingAndGlyphs">11279▲</text>
<text transform="translate(391 347)rotate(90)" textLength="55" lengthAdjust="spacingAndGlyphs">11275+</text>
<text transform="translate(437 363)rotate(90)" textLength="42" lengthAdjust="spacingAndGlyphs">11273</text>
<text transform="translate(480 363)rotate(90)" textLength="42" lengthAdjust="spacingAndGlyphs">11271</text>
<text transform="translate(511 358)rotate(90)" textLength="60" lengthAdjust="spacingAndGlyphs">11269▲</text>
<text transform="translate(545 358)rotate(90)" textLength="60" lengthAdjust="spacingAndGlyphs">11267▲</text>
<text transform="translate(575 358)rotate(90)" textLength="60" lengthAdjust="spacingAndGlyphs">11265▲</text>
<text transform="translate(605 358)rotate(90)" textLength="60" lengthAdjust="spacingAndGlyphs">11263▲</text>
<text transform="translate(634 358)rotate(90)" textLength="60" lengthAdjust="spacingAndGlyphs">11261▲</text>
<text transform="translate(664 358)rotate(90)" textLength="60" lengthAdjust="spacingAndGlyphs">11259▲</text>
<text transform="translate(694 358)rotate(90)" textLength="60" lengthAdjust="spacingAndGlyphs">11257▲</text>
<text transform="translate(723 358)rotate(90)" textLength="60" lengthAdjust="spacingAndGlyphs">11255▲</text>
<text transform="translate(752 358)rotate(90)" textLength="60" lengthAdjust="spacingAndGlyphs">11253▲</text>
<text transform="translate(781 358)rotate(90)" textLength="60" lengthAdjust="spacingAndGlyphs">11249▲</text>
<text transform="translate(811 347)rotate(90)" textLength="58" lengthAdjust="spacingAndGlyphs">11245▲</text>
<text transform="translate(841 347)rotate(90)" textLength="58" lengthAdjust="spacingAndGlyphs">11241▲</text>
<text transform="translate(871 349)rotate(90)" textLength="57" lengthAdjust="spacingAndGlyphs">11237▲</text>
<text transform="translate(901 349)rotate(90)" textLength="57" lengthAdjust="spacingAndGlyphs">11235▲</text>
<text transform="translate(931 349)rotate(90)" textLength="57" lengthAdjust="spacingAndGlyphs">11233▲</text>
<text transform="translate(961 349)rotate(90)" textLength="57" lengthAdjust="spacingAndGlyphs">11231▲</text>
<text transform="translate(992 349)rotate(90)" textLength="57" lengthAdjust="spacingAndGlyphs">11229▲</text>
<text transform="translate(1025 349)rotate(90)" textLength="57" lengthAdjust="spacingAndGlyphs">11227▲</text>
<text transform="translate(1055 349)rotate(90)" textLength="57" lengthAdjust="spacingAndGlyphs">11225▲</text>
<text transform="translate(1085 349)rotate(90)" textLength="57" lengthAdjust="spacingAndGlyphs">11221▲</text>
<text transform="translate(1115 349)rotate(90)" textLength="57" lengthAdjust="spacingAndGlyphs">11217▲</text>
<text transform="translate(1145 349)rotate(90)" textLength="57" lengthAdjust="spacingAndGlyphs">11213▲</text>
<text transform="translate(1175 349)rotate(90)" textLength="57" lengthAdjust="spacingAndGlyphs">11209▲</text>
<text transform="translate(1204 349)rotate(90)" textLength="57" lengthAdjust="spacingAndGlyphs">11205▲</text>
<text transform="translate(1233 349)rotate(90)" textLength="57" lengthAdjust="spacingAndGlyphs">11201▲</text>
<text transform="translate(1263 349)rotate(90)" textLength="57" lengthAdjust="spacingAndGlyphs">11197▲</text>
<text transform="translate(1292 349)rotate(90)" textLength="57" lengthAdjust="spacingAndGlyphs">11193▲</text>
<text transform="translate(1322 350)rotate(90)" textLength="57" lengthAdjust="spacingAndGlyphs">11189▲</text>
<text transform="translate(1353 372)rotate(90)" textLength="57" lengthAdjust="spacingAndGlyphs">11185▲</text>
<text transform="translate(1383 372)rotate(90)" textLength="57" lengthAdjust="spacingAndGlyphs">11183▲</text>
<text transform="translate(1413 372)rotate(90)" textLength="57" lengthAdjust="spacingAndGlyphs">11181▲</text>
<text transform="translate(1443 372)rotate(90)" textLength="57" lengthAdjust="spacingAndGlyphs">11179▲</text>
<text transform="translate(1475 372)rotate(90)" textLength="57" lengthAdjust="spacingAndGlyphs">11177▲</text>
<text transform="translate(1505 372)rotate(90)" textLength="57" lengthAdjust="spacingAndGlyphs">11175▲</text>
<text transform="translate(1535 372)rotate(90)" textLength="57" lengthAdjust="spacingAndGlyphs">11173▲</text>
<text transform="translate(1565 372)rotate(90)" textLength="57" lengthAdjust="spacingAndGlyphs">11171▲</text>
<text transform="translate(1594 347)rotate(90)" textLength="57" lengthAdjust="spacingAndGlyphs">11169▲</text>
<text transform="translate(1624 349)rotate(90)" textLength="57" lengthAdjust="spacingAndGlyphs">11165▲</text>
<text transform="translate(1655 349)rotate(90)" textLength="57" lengthAdjust="spacingAndGlyphs">11161▲</text>
<text transform="translate(1685 349)rotate(90)" textLength="57" lengthAdjust="spacingAndGlyphs">11157▲</text>
<text transform="translate(1715 349)rotate(90)" textLength="57" lengthAdjust="spacingAndGlyphs">11153▲</text>
<text transform="translate(1745 349)rotate(90)" textLength="57" lengthAdjust="spacingAndGlyphs">11149▲</text>
<text transform="translate(1775 349)rotate(90)" textLength="57" lengthAdjust="spacingAndGlyphs">11145▲</text>
<text transform="translate(1805 349)rotate(90)" textLength="57" lengthAdjust="spacingAndGlyphs">11141▲</text>
<text transform="translate(1834 349)rotate(90)" textLength="57" lengthAdjust="spacingAndGlyphs">11137▲</text>
<text transform="translate(1863 349)rotate(90)" textLength="57" lengthAdjust="spacingAndGlyphs">11133▲</text>
<text transform="translate(1892 349)rotate(90)" textLength="57" lengthAdjust="spacingAndGlyphs">11129▲</text>
<text transform="translate(1922 349)rotate(90)" textLength="57" lengthAdjust="spacingAndGlyphs">11125▲</text>
<text transform="translate(1955 349)rotate(90)" textLength="57" lengthAdjust="spacingAndGlyphs">11121▲</text>
<text transform="translate(1986 349)rotate(90)" textLength="57" lengthAdjust="spacingAndGlyphs">11117▲</text>
<text transform="translate(2015 349)rotate(90)" textLength="57" lengthAdjust="spacingAndGlyphs">11113▲</text>
<text transform="translate(2045 349)rotate(90)" textLength="57" lengthAdjust="spacingAndGlyphs">11111▲</text>
<text transform="translate(2075 349)rotate(90)" textLength="57" lengthAdjust="spacingAndGlyphs">11107▲</text>
<text transform="translate(2105 350)rotate(90)" textLength="57" lengthAdjust="spacingAndGlyphs">11103▲</text>
<text transform="translate(2135 353)rotate(90)" textLength="57" lengthAdjust="spacingAndGlyphs">11099▲</text>
<text transform="translate(2165 353)rotate(90)" textLength="57" lengthAdjust="spacingAndGlyphs">11095▲</text>
<text transform="translate(2195 358)rotate(90)" textLength="60" lengthAdjust="spacingAndGlyphs">11091▲</text>
<text transform="translate(2226 358)rotate(90)" textLength="60" lengthAdjust="spacingAndGlyphs">11089▲</text>
<text transform="translate(2255 358)rotate(90)" textLength="60" lengthAdjust="spacingAndGlyphs">11087▲</text>
<text transform="translate(2285 358)rotate(90)" textLength="60" lengthAdjust="spacingAndGlyphs">11085▲</text>
<text transform="translate(2315 358)rotate(90)" textLength="60" lengthAdjust="spacingAndGlyphs">11083▲</text>
<text transform="translate(2345 358)rotate(90)" textLength="60" lengthAdjust="spacingAndGlyphs">11081▲</text>
<text transform="translate(2375 358)rotate(90)" textLength="60" lengthAdjust="spacingAndGlyphs">11079▲</text>
<text transform="translate(2404 358)rotate(90)" textLength="60" lengthAdjust="spacingAndGlyphs">11077▲</text>
<text transform="translate(2438 355)rotate(90)" textLength="57" lengthAdjust="spacingAndGlyphs">11075▲</text>
<text transform="translate(2468 355)rotate(90)" textLength="57" lengthAdjust="spacingAndGlyphs">11073+</text>
<text transform="translate(2497 355)rotate(90)" textLength="57" lengthAdjust="spacingAndGlyphs">11071▲</text>
<text transform="translate(2526 355)rotate(90)" textLength="57" lengthAdjust="spacingAndGlyphs">11069+</text>
<text transform="translate(2556 347)rotate(90)" textLength="57" lengthAdjust="spacingAndGlyphs">11067▲</text>
<text transform="translate(2586 347)rotate(90)" textLength="57" lengthAdjust="spacingAndGlyphs">11063+</text>
<text transform="translate(2616 347)rotate(90)" textLength="57" lengthAdjust="spacingAndGlyphs">11059▲</text>
<text transform="translate(2646 347)rotate(90)" textLength="57" lengthAdjust="spacingAndGlyphs">11055+</text>
<text transform="translate(2675 347)rotate(90)" textLength="57" lengthAdjust="spacingAndGlyphs">11051▲</text>
<text transform="translate(2705 347)rotate(90)" textLength="57" lengthAdjust="spacingAndGlyphs">11047+</text>
<text transform="translate(2735 347)rotate(90)" textLength="57" lengthAdjust="spacingAndGlyphs">11043▲</text>
<text transform="translate(2765 347)rotate(90)" textLength="57" lengthAdjust="spacingAndGlyphs">11039+</text>
<text transform="translate(2795 347)rotate(90)" textLength="57" lengthAdjust="spacingAndGlyphs">11035▲</text>
<text transform="translate(2825 347)rotate(90)" textLength="57" lengthAdjust="spacingAndGlyphs">11031+</text>
<text transform="translate(2855 347)rotate(90)" textLength="57" lengthAdjust="spacingAndGlyphs">11027▲</text>
<text transform="translate(2884 347)rotate(90)" textLength="57" lengthAdjust="spacingAndGlyphs">11023+</text>
<text transform="translate(2918 347)rotate(90)" textLength="57" lengthAdjust="spacingAndGlyphs">11021▲</text>
<text transform="translate(2948 348)rotate(90)" textLength="58" lengthAdjust="spacingAndGlyphs">11019▲</text>
<text transform="translate(2978 348)rotate(90)" textLength="72" lengthAdjust="spacingAndGlyphs">11017▲□</text>
<text transform="translate(3008 348)rotate(90)" textLength="72" lengthAdjust="spacingAndGlyphs">11013▲□</text>
<text transform="translate(3037 348)rotate(90)" textLength="72" lengthAdjust="spacingAndGlyphs">11009▲□</text>
<text transform="translate(3066 348)rotate(90)" textLength="72" lengthAdjust="spacingAndGlyphs">11005▲□</text>
<text transform="translate(3095 348)rotate(90)" textLength="72" lengthAdjust="spacingAndGlyphs">11001▲□</text>

<text transform="translate(123 139)rotate(90)" textLength="44" lengthAdjust="spacingAndGlyphs">11310</text>
<text transform="translate(153 139)rotate(90)" textLength="44" lengthAdjust="spacingAndGlyphs">11306</text>
<text transform="translate(183 139)rotate(90)" textLength="44" lengthAdjust="spacingAndGlyphs">11302</text>
<text transform="translate(213 139)rotate(90)" textLength="44" lengthAdjust="spacingAndGlyphs">11298</text>
<text transform="translate(242 139)rotate(90)" textLength="44" lengthAdjust="spacingAndGlyphs">11294</text>
<text transform="translate(271 139)rotate(90)" textLength="44" lengthAdjust="spacingAndGlyphs">11290</text>
<text transform="translate(301 139)rotate(90)" textLength="44" lengthAdjust="spacingAndGlyphs">11286</text>
<text transform="translate(331 139)rotate(90)" textLength="44" lengthAdjust="spacingAndGlyphs">11282</text>
<text transform="translate(361 139)rotate(90)" textLength="44" lengthAdjust="spacingAndGlyphs">11278</text>
<text transform="translate(752 139)rotate(90)" textLength="44" lengthAdjust="spacingAndGlyphs">11252</text>
<text transform="translate(781 139)rotate(90)" textLength="44" lengthAdjust="spacingAndGlyphs">11248</text>
<text transform="translate(811 139)rotate(90)" textLength="44" lengthAdjust="spacingAndGlyphs">11244</text>
<text transform="translate(856 140)rotate(90)" textLength="44" lengthAdjust="spacingAndGlyphs">11240</text>
<text transform="translate(1115 139)rotate(90)" textLength="44" lengthAdjust="spacingAndGlyphs">11222</text>
<text transform="translate(1145 139)rotate(90)" textLength="44" lengthAdjust="spacingAndGlyphs">11218</text>
<text transform="translate(1175 139)rotate(90)" textLength="44" lengthAdjust="spacingAndGlyphs">11214</text>
<text transform="translate(1204 139)rotate(90)" textLength="44" lengthAdjust="spacingAndGlyphs">11210</text>
<text transform="translate(1233 139)rotate(90)" textLength="44" lengthAdjust="spacingAndGlyphs">11206</text>
<text transform="translate(1263 139)rotate(90)" textLength="44" lengthAdjust="spacingAndGlyphs">11202</text>
<text transform="translate(1292 139)rotate(90)" textLength="44" lengthAdjust="spacingAndGlyphs">11198</text>
<text transform="translate(1322 139)rotate(90)" textLength="44" lengthAdjust="spacingAndGlyphs">11194</text>
<text transform="translate(1366 141)rotate(90)" textLength="44" lengthAdjust="spacingAndGlyphs">11190</text>
<text transform="translate(1594 139)rotate(90)" textLength="44" lengthAdjust="spacingAndGlyphs">11170</text>
<text transform="translate(1624 139)rotate(90)" textLength="44" lengthAdjust="spacingAndGlyphs">11166</text>
<text transform="translate(1655 139)rotate(90)" textLength="44" lengthAdjust="spacingAndGlyphs">11162</text>
<text transform="translate(1685 139)rotate(90)" textLength="44" lengthAdjust="spacingAndGlyphs">11158</text>
<text transform="translate(1715 139)rotate(90)" textLength="44" lengthAdjust="spacingAndGlyphs">11154</text>
<text transform="translate(1745 139)rotate(90)" textLength="44" lengthAdjust="spacingAndGlyphs">11150</text>
<text transform="translate(1775 139)rotate(90)" textLength="44" lengthAdjust="spacingAndGlyphs">11146</text>
<text transform="translate(1805 139)rotate(90)" textLength="44" lengthAdjust="spacingAndGlyphs">11142</text>
<text transform="translate(1834 139)rotate(90)" textLength="44" lengthAdjust="spacingAndGlyphs">11138</text>
<text transform="translate(1863 139)rotate(90)" textLength="44" lengthAdjust="spacingAndGlyphs">11134</text>
<text transform="translate(1892 139)rotate(90)" textLength="44" lengthAdjust="spacingAndGlyphs">11130</text>
<text transform="translate(1922 139)rotate(90)" textLength="44" lengthAdjust="spacingAndGlyphs">11126</text>
<text transform="translate(1955 139)rotate(90)" textLength="44" lengthAdjust="spacingAndGlyphs">11122</text>
<text transform="translate(1986 139)rotate(90)" textLength="44" lengthAdjust="spacingAndGlyphs">11118</text>
<text transform="translate(2015 139)rotate(90)" textLength="44" lengthAdjust="spacingAndGlyphs">11114</text>
<text transform="translate(2045 139)rotate(90)" textLength="44" lengthAdjust="spacingAndGlyphs">11110</text>
<text transform="translate(2075 139)rotate(90)" textLength="44" lengthAdjust="spacingAndGlyphs">11106</text>
<text transform="translate(2105 139)rotate(90)" textLength="44" lengthAdjust="spacingAndGlyphs">11102</text>
<text transform="translate(2135 139)rotate(90)" textLength="44" lengthAdjust="spacingAndGlyphs">11098</text>
<text transform="translate(2165 139)rotate(90)" textLength="44" lengthAdjust="spacingAndGlyphs">11094</text>
<text transform="translate(2556 139)rotate(90)" textLength="44" lengthAdjust="spacingAndGlyphs">11066</text>
<text transform="translate(2586 139)rotate(90)" textLength="44" lengthAdjust="spacingAndGlyphs">11062</text>
<text transform="translate(2616 139)rotate(90)" textLength="44" lengthAdjust="spacingAndGlyphs">11058</text>
<text transform="translate(2646 139)rotate(90)" textLength="44" lengthAdjust="spacingAndGlyphs">11054</text>
<text transform="translate(2675 139)rotate(90)" textLength="44" lengthAdjust="spacingAndGlyphs">11050</text>
<text transform="translate(2705 139)rotate(90)" textLength="44" lengthAdjust="spacingAndGlyphs">11046</text>
<text transform="translate(2735 139)rotate(90)" textLength="44" lengthAdjust="spacingAndGlyphs">11042</text>
<text transform="translate(2765 139)rotate(90)" textLength="44" lengthAdjust="spacingAndGlyphs">11038</text>
<text transform="translate(2795 139)rotate(90)" textLength="44" lengthAdjust="spacingAndGlyphs">11034</text>
<text transform="translate(2825 139)rotate(90)" textLength="44" lengthAdjust="spacingAndGlyphs">11030</text>
<text transform="translate(2854 139)rotate(90)" textLength="44" lengthAdjust="spacingAndGlyphs">11026</text>
<text transform="translate(2883 139)rotate(90)" textLength="44" lengthAdjust="spacingAndGlyphs">11022</text>
<text transform="translate(2978 139)rotate(90)" textLength="44" lengthAdjust="spacingAndGlyphs">11014</text>
<text transform="translate(3008 139)rotate(90)" textLength="44" lengthAdjust="spacingAndGlyphs">11010</text>
<text transform="translate(3037 139)rotate(90)" textLength="44" lengthAdjust="spacingAndGlyphs">11006</text>
<text transform="translate(3066 139)rotate(90)" textLength="44" lengthAdjust="spacingAndGlyphs">11002</text>

<text transform="translate(123 277)rotate(90)" textLength="44" lengthAdjust="spacingAndGlyphs">11309</text>
<text transform="translate(153 277)rotate(90)" textLength="44" lengthAdjust="spacingAndGlyphs">11305</text>
<text transform="translate(183 277)rotate(90)" textLength="44" lengthAdjust="spacingAndGlyphs">11301</text>
<text transform="translate(213 277)rotate(90)" textLength="44" lengthAdjust="spacingAndGlyphs">11297</text>
<text transform="translate(242 277)rotate(90)" textLength="44" lengthAdjust="spacingAndGlyphs">11293</text>
<text transform="translate(271 277)rotate(90)" textLength="44" lengthAdjust="spacingAndGlyphs">11289</text>
<text transform="translate(301 277)rotate(90)" textLength="44" lengthAdjust="spacingAndGlyphs">11285</text>
<text transform="translate(331 277)rotate(90)" textLength="44" lengthAdjust="spacingAndGlyphs">11281</text>
<text transform="translate(361 277)rotate(90)" textLength="44" lengthAdjust="spacingAndGlyphs">11277</text>
<text transform="translate(752 277)rotate(90)" textLength="44" lengthAdjust="spacingAndGlyphs">11251</text>
<text transform="translate(781 277)rotate(90)" textLength="44" lengthAdjust="spacingAndGlyphs">11247</text>
<text transform="translate(811 277)rotate(90)" textLength="44" lengthAdjust="spacingAndGlyphs">11243</text>
<text transform="translate(841 277)rotate(90)" textLength="44" lengthAdjust="spacingAndGlyphs">11239</text>
<text transform="translate(1085 277)rotate(90)" textLength="44" lengthAdjust="spacingAndGlyphs">11223</text>
<text transform="translate(1115 277)rotate(90)" textLength="44" lengthAdjust="spacingAndGlyphs">11219</text>
<text transform="translate(1145 277)rotate(90)" textLength="44" lengthAdjust="spacingAndGlyphs">11215</text>
<text transform="translate(1175 277)rotate(90)" textLength="44" lengthAdjust="spacingAndGlyphs">11211</text>
<text transform="translate(1204 277)rotate(90)" textLength="44" lengthAdjust="spacingAndGlyphs">11207</text>
<text transform="translate(1233 277)rotate(90)" textLength="44" lengthAdjust="spacingAndGlyphs">11203</text>
<text transform="translate(1263 277)rotate(90)" textLength="44" lengthAdjust="spacingAndGlyphs">11199</text>
<text transform="translate(1292 277)rotate(90)" textLength="44" lengthAdjust="spacingAndGlyphs">11195</text>
<text transform="translate(1322 277)rotate(90)" textLength="44" lengthAdjust="spacingAndGlyphs">11191</text>
<text transform="translate(1366 278)rotate(90)" textLength="44" lengthAdjust="spacingAndGlyphs">11187</text>
<text transform="translate(1594 277)rotate(90)" textLength="44" lengthAdjust="spacingAndGlyphs">11167</text>
<text transform="translate(1624 277)rotate(90)" textLength="44" lengthAdjust="spacingAndGlyphs">11163</text>
<text transform="translate(1655 277)rotate(90)" textLength="44" lengthAdjust="spacingAndGlyphs">11159</text>
<text transform="translate(1685 277)rotate(90)" textLength="44" lengthAdjust="spacingAndGlyphs">11155</text>
<text transform="translate(1715 277)rotate(90)" textLength="44" lengthAdjust="spacingAndGlyphs">11151</text>
<text transform="translate(1745 277)rotate(90)" textLength="44" lengthAdjust="spacingAndGlyphs">11147</text>
<text transform="translate(1775 277)rotate(90)" textLength="44" lengthAdjust="spacingAndGlyphs">11143</text>
<text transform="translate(1805 277)rotate(90)" textLength="44" lengthAdjust="spacingAndGlyphs">11139</text>
<text transform="translate(1834 277)rotate(90)" textLength="44" lengthAdjust="spacingAndGlyphs">11135</text>
<text transform="translate(1863 277)rotate(90)" textLength="44" lengthAdjust="spacingAndGlyphs">11131</text>
<text transform="translate(1892 277)rotate(90)" textLength="44" lengthAdjust="spacingAndGlyphs">11127</text>
<text transform="translate(1922 277)rotate(90)" textLength="44" lengthAdjust="spacingAndGlyphs">11123</text>
<text transform="translate(1955 277)rotate(90)" textLength="44" lengthAdjust="spacingAndGlyphs">11119</text>
<text transform="translate(1985 277)rotate(90)" textLength="44" lengthAdjust="spacingAndGlyphs">11115</text>
<text transform="translate(2045 277)rotate(90)" textLength="44" lengthAdjust="spacingAndGlyphs">11109</text>
<text transform="translate(2075 277)rotate(90)" textLength="44" lengthAdjust="spacingAndGlyphs">11105</text>
<text transform="translate(2105 277)rotate(90)" textLength="44" lengthAdjust="spacingAndGlyphs">11101</text>
<text transform="translate(2135 277)rotate(90)" textLength="44" lengthAdjust="spacingAndGlyphs">11097</text>
<text transform="translate(2165 277)rotate(90)" textLength="44" lengthAdjust="spacingAndGlyphs">11093</text>
<text transform="translate(2556 277)rotate(90)" textLength="44" lengthAdjust="spacingAndGlyphs">11065</text>
<text transform="translate(2586 277)rotate(90)" textLength="44" lengthAdjust="spacingAndGlyphs">11061</text>
<text transform="translate(2616 277)rotate(90)" textLength="44" lengthAdjust="spacingAndGlyphs">11057</text>
<text transform="translate(2646 277)rotate(90)" textLength="44" lengthAdjust="spacingAndGlyphs">11053</text>
<text transform="translate(2675 277)rotate(90)" textLength="44" lengthAdjust="spacingAndGlyphs">11049</text>
<text transform="translate(2705 277)rotate(90)" textLength="44" lengthAdjust="spacingAndGlyphs">11045</text>
<text transform="translate(2735 277)rotate(90)" textLength="44" lengthAdjust="spacingAndGlyphs">11041</text>
<text transform="translate(2765 277)rotate(90)" textLength="44" lengthAdjust="spacingAndGlyphs">11037</text>
<text transform="translate(2795 277)rotate(90)" textLength="44" lengthAdjust="spacingAndGlyphs">11033</text>
<text transform="translate(2825 277)rotate(90)" textLength="44" lengthAdjust="spacingAndGlyphs">11029</text>
<text transform="translate(2854 277)rotate(90)" textLength="44" lengthAdjust="spacingAndGlyphs">11025</text>
<text transform="translate(2978 277)rotate(90)" textLength="44" lengthAdjust="spacingAndGlyphs">11015</text>
<text transform="translate(3008 277)rotate(90)" textLength="44" lengthAdjust="spacingAndGlyphs">11011</text>
<text transform="translate(3037 277)rotate(90)" textLength="44" lengthAdjust="spacingAndGlyphs">11007</text>
<text transform="translate(3066 277)rotate(90)" textLength="44" lengthAdjust="spacingAndGlyphs">11003</text>
</g>
</svg>
</body></html>
